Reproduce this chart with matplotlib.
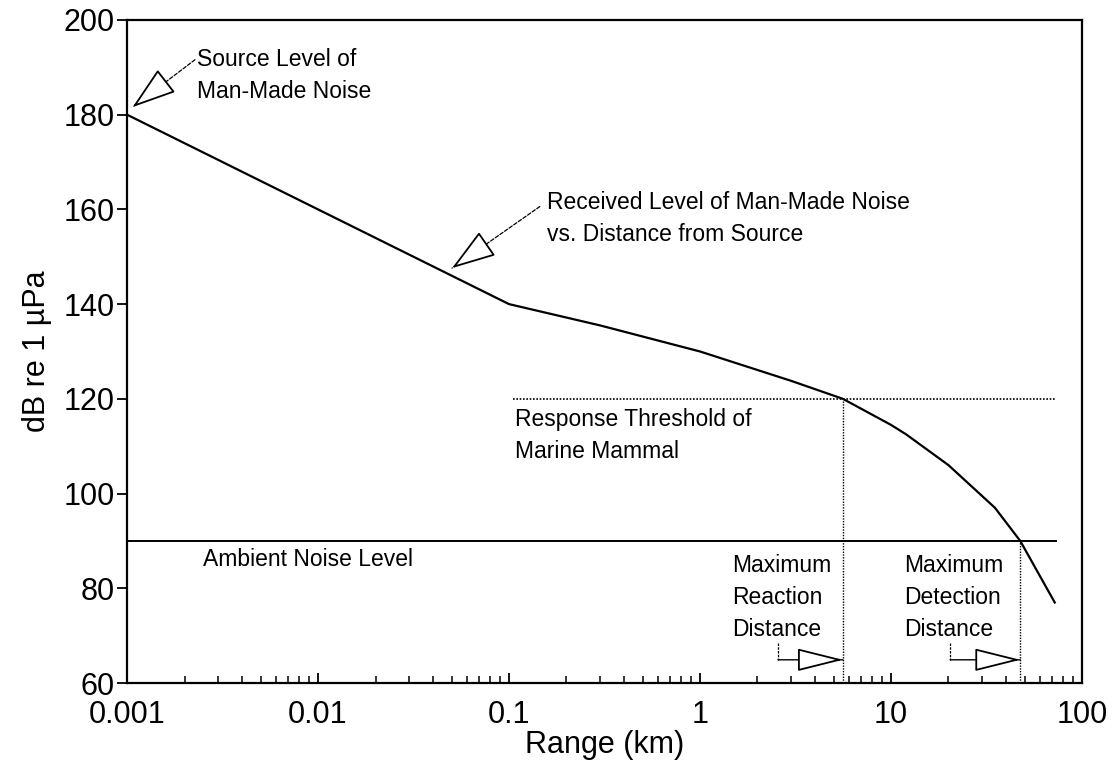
import numpy as np
import matplotlib.pyplot as plt
from matplotlib.patches import FancyArrowPatch

plt.rcParams['font.family'] = ['Liberation Sans', 'DejaVu Sans']

# received level of man-made noise vs range
range_km = [0.001, 0.1, 0.3, 1, 3, 5.6, 10, 12, 20, 35, 47.5, 72]
level_db = [180, 140, 135.5, 130, 123.8, 120, 114.5, 112.5, 106, 97, 90, 77]

threshold_db = 120
ambient_db = 90
reaction_km = 5.6
detection_km = 47.5
threshold_x = [0.105, 73]
ambient_x = [0.001, 73]

x_ticks = [0.001, 0.01, 0.1, 1, 10, 100]
x_labels = ['0.001', '0.01', '0.1', '1', '10', '100']
y_ticks = [60, 80, 100, 120, 140, 160, 180, 200]

fig = plt.figure(figsize=(11.18, 7.67), dpi=100)
ax = fig.add_axes([0.1136, 0.1095, 0.8542, 0.8645])

ax.plot(range_km, level_db, color='black', lw=1.6)
ax.plot(threshold_x, [threshold_db, threshold_db], color='black', lw=1.2, ls=(0, (1, 1)))
ax.plot(ambient_x, [ambient_db, ambient_db], color='black', lw=1.4)
ax.plot([reaction_km, reaction_km], [60, threshold_db], color='black', lw=1.0, ls=(0, (1, 1)))
ax.plot([detection_km, detection_km], [60, ambient_db], color='black', lw=1.0, ls=(0, (1, 1)))

ax.set_xscale('log')
ax.set_xlim(0.001, 100)
ax.set_ylim(60, 200)
ax.set_xticks(x_ticks)
ax.set_xticklabels(x_labels)
ax.set_yticks(y_ticks)

for s in ax.spines.values():
    s.set_linewidth(1.6)
ax.tick_params(axis='x', which='major', direction='in', length=7, width=1.3, labelsize=22, pad=12)
ax.tick_params(axis='x', which='minor', direction='in', length=5, width=1.1)
ax.tick_params(axis='y', which='major', direction='out', length=7, width=1.3, labelsize=22, pad=2)

ax.set_xlabel('Range (km)', fontsize=22, labelpad=0)
ax.set_ylabel('dB re 1 µPa', fontsize=22, labelpad=8)

tsize = 16.5
lsp = 1.5


def pointer(start, base, tip):
    # dashed leader line then a hollow arrow head
    ax.add_patch(FancyArrowPatch(start, tip, arrowstyle='-', lw=0.9,
                                 ls=(0, (3, 1.5)), color='black',
                                 shrinkA=0, shrinkB=0))
    ax.add_patch(FancyArrowPatch(base, tip,
                                 arrowstyle='-|>,head_length=1.0,head_width=0.33',
                                 mutation_scale=28, lw=1.3, ec='black', fc='white',
                                 shrinkA=0, shrinkB=0, zorder=5))


ax.text(0.00232, 188.2, 'Source Level of\nMan-Made Noise', fontsize=tsize,
        va='center', linespacing=lsp)
pointer((0.00227, 191.6), (0.00149, 186.1), (0.00107, 181.6))

ax.text(0.158, 158.1, 'Received Level of Man-Made Noise\nvs. Distance from Source',
        fontsize=tsize, va='center', linespacing=lsp)
pointer((0.145, 160.6), (0.074, 152.3), (0.0503, 147.6))

ax.text(0.108, 112.2, 'Response Threshold of\nMarine Mammal', fontsize=tsize,
        va='center', linespacing=lsp)
ax.text(0.0025, 86.0, 'Ambient Noise Level', fontsize=tsize, va='center')

ax.text(1.47, 78.0, 'Maximum\nReaction\nDistance', fontsize=tsize, va='center',
        linespacing=lsp)
ax.text(11.7, 78.0, 'Maximum\nDetection\nDistance', fontsize=tsize, va='center',
        linespacing=lsp)


def side_arrow(x0, xb, tip, y0, y1):
    ax.plot([x0, x0], [y1, y0], color='black', lw=0.9, ls=(0, (2, 1)))
    ax.add_patch(FancyArrowPatch((x0, y0), (tip, y0), arrowstyle='-', lw=1.0,
                                 color='black', shrinkA=0, shrinkB=0))
    ax.add_patch(FancyArrowPatch((xb, y0), (tip, y0),
                                 arrowstyle='-|>,head_length=1.0,head_width=0.25',
                                 mutation_scale=29, lw=1.3, ec='black', fc='white',
                                 shrinkA=0, shrinkB=0, zorder=5))


side_arrow(2.56, 3.46, reaction_km, 64.9, 68.5)
side_arrow(20.4, 28.5, detection_km, 64.9, 68.5)

fig.savefig('out.png', dpi=100)
